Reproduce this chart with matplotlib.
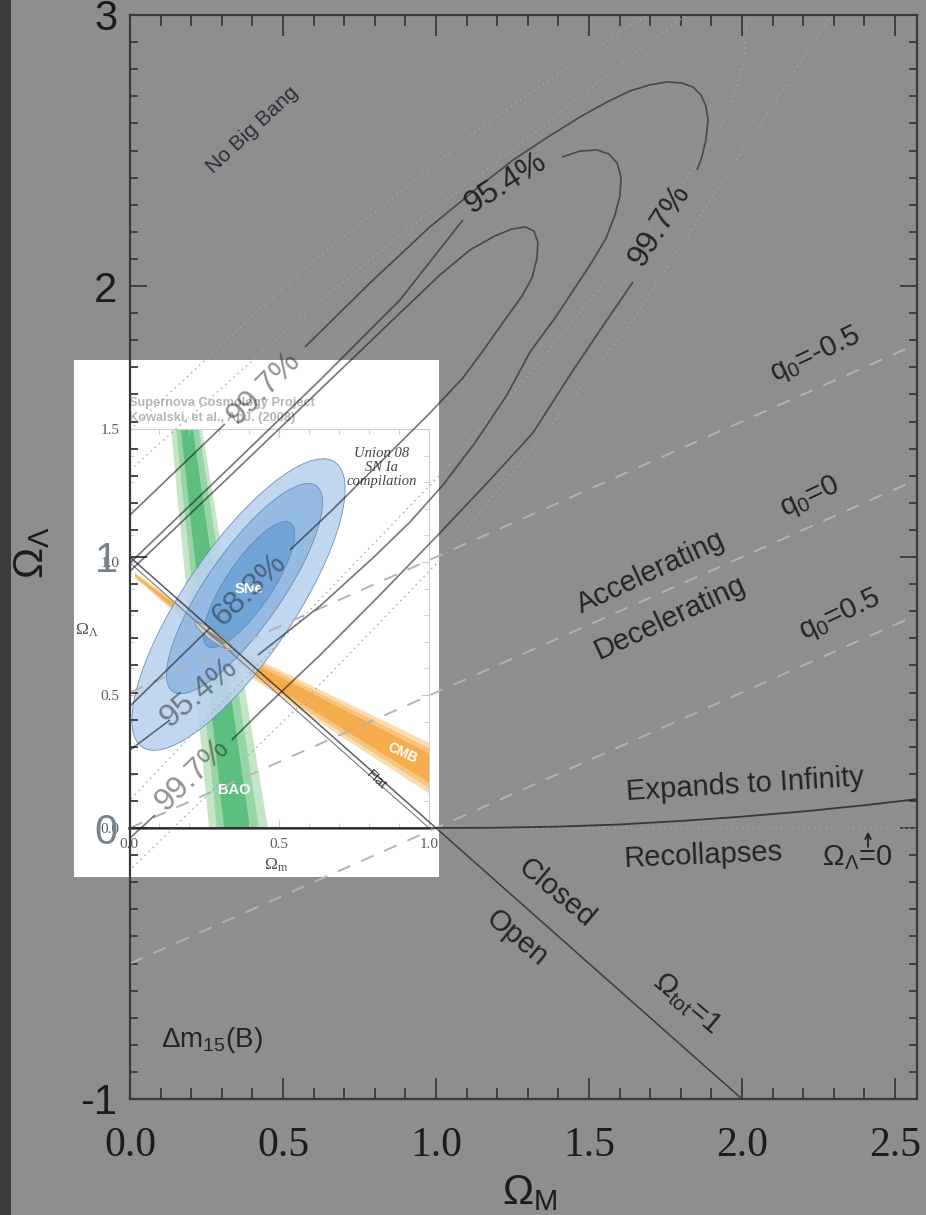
import matplotlib
matplotlib.use("Agg")
import matplotlib.pyplot as plt
from matplotlib.patches import Rectangle, Polygon, Ellipse
from matplotlib.ticker import MultipleLocator

plt.rcParams["font.family"] = ["Liberation Sans", "DejaVu Sans"]
plt.rcParams["mathtext.default"] = "regular"
plt.rcParams["axes.unicode_minus"] = False

BG = "#8e8e8e"
INK = "#242424"
LINE = "#1a1a1a"

# ---------------- main panel data ----------------
X_TICKS = [0.0, 0.5, 1.0, 1.5, 2.0, 2.5]
X_TICK_LABELS = ["0.0", "0.5", "1.0", "1.5", "2.0", "2.5"]
Y_TICKS = [-1, 0, 1, 2, 3]
Y_TICK_LABELS = ["-1", "0", "1", "2", "3"]

# 68.3% contour, split where the label sits
c68_x1 = [0.000, 0.327, 0.654, 0.882, 1.013, 1.111, 1.193, 1.248, 1.291, 1.320, 1.333, 1.330,
          1.314, 1.281, 1.225, 1.160, 1.088, 0.980, 0.882, 0.654, 0.523]
c68_y1 = [0.948, 1.299, 1.653, 1.900, 2.041, 2.133, 2.185, 2.210, 2.218, 2.203, 2.162, 2.103,
          2.030, 1.963, 1.875, 1.771, 1.661, 1.531, 1.421, 1.166, 1.026]
c68_x2 = [0.261, 0.000]
c68_y2 = [0.738, 0.450]

# 95.4% contour
c95_x1 = [0.000, 0.327, 0.621, 0.882, 1.088]
c95_y1 = [0.978, 1.332, 1.653, 1.948, 2.244]
c95_x2 = [1.412, 1.471, 1.526, 1.565, 1.592, 1.605, 1.601, 1.585, 1.556, 1.510, 1.454, 1.389,
          1.307, 1.232, 1.127, 1.023, 0.915, 0.801, 0.621, 0.418]
c95_y2 = [2.476, 2.498, 2.502, 2.487, 2.454, 2.399, 2.332, 2.262, 2.177, 2.089, 1.993, 1.882,
          1.756, 1.598, 1.421, 1.266, 1.129, 1.004, 0.819, 0.638]
c95_x3 = [0.131, 0.000]
c95_y3 = [0.399, 0.288]

# 99.7% contour
c99_x1 = [0.000, 0.310]
c99_y1 = [1.155, 1.491]
c99_x2 = [0.572, 0.784, 0.980, 1.127, 1.252, 1.366, 1.471, 1.559, 1.634, 1.699, 1.755, 1.804,
          1.840, 1.866, 1.882, 1.889, 1.882, 1.869, 1.853]
c99_y2 = [1.775, 2.011, 2.218, 2.354, 2.465, 2.550, 2.624, 2.679, 2.720, 2.742, 2.753, 2.749,
          2.734, 2.705, 2.664, 2.613, 2.539, 2.476, 2.428]
c99_x3 = [1.644, 1.559, 1.438, 1.317, 1.176, 1.013, 0.817, 0.621, 0.425, 0.333]
c99_y3 = [2.015, 1.875, 1.672, 1.458, 1.284, 1.089, 0.860, 0.638, 0.428, 0.325]
c99_x4 = [0.082, 0.000]
c99_y4 = [0.048, -0.037]

# faint dotted contours
dotA_x = [0.000, 0.556, 0.882, 1.252, 1.634, 1.797, 1.910, 2.016, 2.007, 1.961, 1.863, 1.699,
          1.503, 1.275, 1.013, 0.556, 0.000]
dotA_y = [1.321, 1.882, 2.188, 2.502, 2.845, 2.982, 3.080, 3.000, 2.834, 2.649, 2.465, 2.225,
          1.948, 1.635, 1.303, 0.768, 0.103]
dotB_x = [0.000, 0.556, 1.144, 1.634, 1.950, 2.294, 1.971, 1.644, 1.340, 1.013, 0.556, 0.000]
dotB_y = [1.469, 2.052, 2.583, 2.963, 3.150, 3.000, 2.446, 1.875, 1.432, 0.989, 0.454, -0.155]

# deceleration parameter lines (endpoints)
q0_x = [0.0, 2.6]
q0_neg_y = [0.5, 1.8]
q0_zero_y = [0.0, 1.3]
q0_pos_y = [-0.5, 0.8]

# expands / recollapses boundary
exp_x = [0.0, 1.0, 1.2, 1.4, 1.6, 1.8, 2.0, 2.2, 2.4, 2.6]
exp_y = [0.0, 0.0, 0.001, 0.005, 0.013, 0.026, 0.042, 0.061, 0.084, 0.110]

flat_x = [0.0, 2.0]
flat_y = [1.0, -1.0]
lam0_x = [1.0, 2.6]
lam0_y = [0.0, 0.0]

# ---------------- inset data (Kowalski et al. 2008) ----------------
IN_X_TICKS = [0.0, 0.5, 1.0]
IN_X_LABELS = ["0.0", "0.5", "1.0"]
IN_Y_TICKS = [0.0, 0.5, 1.0, 1.5]
IN_Y_LABELS = ["0.0", "0.5", "1.0", "1.5"]

bao_x = [[0.140, 0.243, 0.463, 0.267],
         [0.157, 0.233, 0.433, 0.293],
         [0.173, 0.213, 0.403, 0.317]]
bao_y = [1.5, 1.5, 0.0, 0.0]
bao_colors = ["#c4e6c6", "#98d5a6", "#5dbf7f"]

cmb_x = [0.02, 0.40, 1.00, 1.00, 0.40, 0.02]
cmb_y = [[0.960, 0.650, 0.320, 0.130, 0.570, 0.940],
         [0.956, 0.640, 0.300, 0.150, 0.580, 0.944],
         [0.952, 0.628, 0.280, 0.172, 0.592, 0.948]]
cmb_colors = ["#fbdcae", "#f8c47f", "#f5ac4c"]

sne_cx = [0.365, 0.385, 0.400]
sne_cy = [0.840, 0.900, 0.915]
sne_w = [1.25, 0.91, 0.54]
sne_h = [0.38, 0.26, 0.16]
sne_ang = [59.7, 58.9, 59.8]
sne_colors = ["#bcd3ee", "#93b9e3", "#6ea3d6"]

fig = plt.figure(figsize=(9.26, 12.15), dpi=100, facecolor=BG)
fig.add_artist(Rectangle((0, 0), 11 / 926, 1, transform=fig.transFigure,
                         facecolor="#3b3b3b", edgecolor="none", zorder=-5))
fig.add_artist(Rectangle((74 / 926, (1215 - 877) / 1215), 365 / 926, 517 / 1215,
                         transform=fig.transFigure, facecolor="white",
                         edgecolor="none", zorder=0.5))

# ---------------- inset ----------------
ins = fig.add_axes([129 / 926, (1215 - 828) / 1215, 300 / 926, 399 / 1215], zorder=1)
ins.set_facecolor("white")
ins.set_xlim(0, 1)
ins.set_ylim(0, 1.5)
for xs, c in zip(bao_x, bao_colors):
    ins.add_patch(Polygon(list(zip(xs, bao_y)), closed=True, facecolor=c, edgecolor="none", zorder=1))
for ys, c in zip(cmb_y, cmb_colors):
    ins.add_patch(Polygon(list(zip(cmb_x, ys)), closed=True, facecolor=c, edgecolor="none", zorder=2))
for cx, cy, w, h, a, c in zip(sne_cx, sne_cy, sne_w, sne_h, sne_ang, sne_colors):
    ins.add_patch(Ellipse((cx, cy), w, h, angle=a, facecolor=c, edgecolor="#5f86b5",
                          linewidth=0.6, alpha=0.92, zorder=3))
ins.add_patch(Ellipse((0.285, 0.72), 0.165, 0.035, angle=-39, facecolor="#cacaca",
                      edgecolor="#8a8a8a", linewidth=0.6, zorder=4))
ins.add_patch(Ellipse((0.29, 0.715), 0.08, 0.015, angle=-39, facecolor="#8f8f8f",
                      edgecolor="none", zorder=4))
ins.plot([0, 1], [1, 0], color="#7a7a7a", lw=0.8, zorder=4)

ins.text(0.40, 0.90, "SNe", color="white", fontsize=10.5, fontweight="bold", ha="center", va="center", zorder=5)
ins.text(0.35, 0.143, "BAO", color="white", fontsize=10.5, fontweight="bold", ha="center", va="center", zorder=5)
ins.text(0.91, 0.28, "CMB", color="white", fontsize=10, fontweight="bold", ha="center", va="center",
         rotation=-25, rotation_mode="anchor", zorder=5)
ins.text(0.823, 0.18, "Flat", color="#333333", fontsize=9.5, ha="center", va="center",
         rotation=-43, rotation_mode="anchor", zorder=5)
ins.text(0.843, 1.357, "Union 08\nSN Ia\ncompilation", fontfamily="Liberation Serif", style="italic",
         fontsize=10.5, color="#444444", ha="center", va="center", linespacing=1.1, zorder=5)
ins.text(0.0, 1.065, "Supernova Cosmology Project", transform=ins.transAxes, fontsize=9.2,
         fontweight="bold", color="#b4b4b4", ha="left", va="center")
ins.text(0.0, 1.028, "Kowalski, et al., ApJ. (2008)", transform=ins.transAxes, fontsize=9.2,
         fontweight="bold", color="#b4b4b4", ha="left", va="center")
ins.text(0.49, -0.093, r"$\Omega_m$", transform=ins.transAxes, fontfamily="Liberation Serif",
         fontsize=12.5, color="#555555", ha="center", va="center")
ins.text(-0.14, 0.496, r"$\Omega_\Lambda$", transform=ins.transAxes, fontfamily="Liberation Serif",
         fontsize=12.5, color="#555555", ha="center", va="center")

for s in ins.spines.values():
    s.set_color("#d0d0d0")
    s.set_linewidth(0.8)
ins.spines["bottom"].set_color("#5a5a5a")
ins.spines["bottom"].set_linewidth(1.8)
ins.set_xticks(IN_X_TICKS, IN_X_LABELS)
ins.set_yticks(IN_Y_TICKS, IN_Y_LABELS)
ins.xaxis.set_minor_locator(MultipleLocator(0.1))
ins.yaxis.set_minor_locator(MultipleLocator(0.1))
ins.tick_params(which="both", direction="in", top=True, right=True, color="#c8c8c8",
                labelcolor="#5a5a5a", labelsize=11)
ins.tick_params(which="major", length=6)
ins.tick_params(which="minor", length=3.5)
ins.tick_params(axis="x", pad=7)
ins.tick_params(axis="y", pad=7)
for lab in ins.get_xticklabels() + ins.get_yticklabels():
    lab.set_fontfamily("Liberation Serif")

# ---------------- main panel ----------------
ax = fig.add_axes([130 / 926, (1215 - 1099) / 1215, 787 / 926, 1084 / 1215], zorder=2)
ax.patch.set_visible(False)
ax.set_xlim(0, 2.572)
ax.set_ylim(-1, 3)

# dashed q0 lines
for ys in (q0_neg_y, q0_zero_y, q0_pos_y):
    ax.plot(q0_x, ys, color="#b3b3b3", lw=1.4, linestyle=(0, (7, 6)))

# dotted contours
for xs, ys in ((dotA_x, dotA_y), (dotB_x, dotB_y)):
    ax.plot(xs, ys, color="#a6a6a6", lw=1.0, linestyle=(0, (1, 3)))
ax.plot(lam0_x, lam0_y, color="#a6a6a6", lw=1.0, linestyle=(0, (1, 3)))

# solid contours
for xs, ys in ((c68_x1, c68_y1), (c68_x2, c68_y2),
               (c95_x1, c95_y1), (c95_x2, c95_y2), (c95_x3, c95_y3),
               (c99_x1, c99_y1), (c99_x2, c99_y2), (c99_x3, c99_y3), (c99_x4, c99_y4)):
    ax.plot(xs, ys, color=LINE, lw=1.2, alpha=0.6, solid_capstyle="butt", solid_joinstyle="round")

ax.plot(flat_x, flat_y, color=LINE, lw=1.1, alpha=0.7)
ax.plot(exp_x, exp_y, color=LINE, lw=1.3, alpha=0.75)


def label(x, y, s, rot, size=21, alpha=1.0, color=INK):
    ax.text(x, y, s, fontsize=size, rotation=rot, rotation_mode="anchor", ha="center",
            va="center", color=color, alpha=alpha)


label(0.399, 2.576, "No Big Bang", 43, size=15, color="#2c2c3c")
label(1.229, 2.380, "95.4%", 32, size=23)
label(1.732, 2.225, "99.7%", 58, size=23)
label(0.438, 1.624, "99.7%", 45, size=23, alpha=0.5)
label(0.389, 0.878, "68.3%", 44, size=23, alpha=0.5)
label(0.225, 0.498, "95.4%", 40, size=23, alpha=0.5)
label(0.203, 0.196, "99.7%", 44, size=23, alpha=0.5)
label(2.239, 1.745, r"$q_0$=-0.5", 25)
label(2.222, 1.221, r"$q_0$=0", 25)
label(2.320, 0.786, r"$q_0$=0.5", 25)
label(1.703, 0.945, "Accelerating", 25)
label(1.765, 0.775, "Decelerating", 25)
label(2.010, 0.159, "Expands to Infinity", 3.5)
label(1.873, -0.103, "Recollapses", 2.5)
label(2.376, -0.111, r"$\Omega_\Lambda$=0", 0)
label(1.395, -0.240, "Closed", -40)
label(1.265, -0.406, "Open", -40)
label(1.820, -0.646, r"$\Omega_{tot}$=1", -40)
label(0.268, -0.782, r"$\Delta$m$_{15}$(B)", 0, size=20)
ax.annotate("", xy=(2.412, -0.003), xytext=(2.412, -0.08),
            arrowprops=dict(arrowstyle="->", color=INK, lw=1.3))

ax.set_xticks(X_TICKS, X_TICK_LABELS)
ax.set_yticks(Y_TICKS, Y_TICK_LABELS)
ax.xaxis.set_minor_locator(MultipleLocator(0.1))
ax.yaxis.set_minor_locator(MultipleLocator(0.1))
for s in ax.spines.values():
    s.set_color("#3a3a3a")
    s.set_linewidth(1.6)
ax.tick_params(which="both", direction="in", top=True, right=True, color="#3a3a3a", width=1.3)
ax.tick_params(axis="x", which="major", length=15, pad=20, labelsize=30)
ax.tick_params(axis="x", which="minor", length=8)
ax.tick_params(axis="y", which="major", length=12, pad=9, labelsize=30)
ax.tick_params(axis="y", which="minor", length=6)
for lab in ax.get_xticklabels():
    lab.set_fontfamily("Liberation Serif")
    lab.set_color("#1c1c1c")
for lab in ax.get_yticklabels():
    lab.set_color("#1c1c1c")
    if lab.get_text() in ("0", "1"):
        lab.set_color("#76828e")

# axis titles placed in figure pixels
fig.text(530 / 926, 1 - 1193 / 1215, r"$\Omega_M$", fontsize=30, color="#1c1c1c",
         ha="center", va="center")
fig.text(32 / 926, 1 - 553 / 1215, r"$\Omega_\Lambda$", fontsize=30, color="#1c1c1c",
         ha="center", va="center", rotation=90)

fig.savefig("out.png", dpi=100, facecolor=BG)
